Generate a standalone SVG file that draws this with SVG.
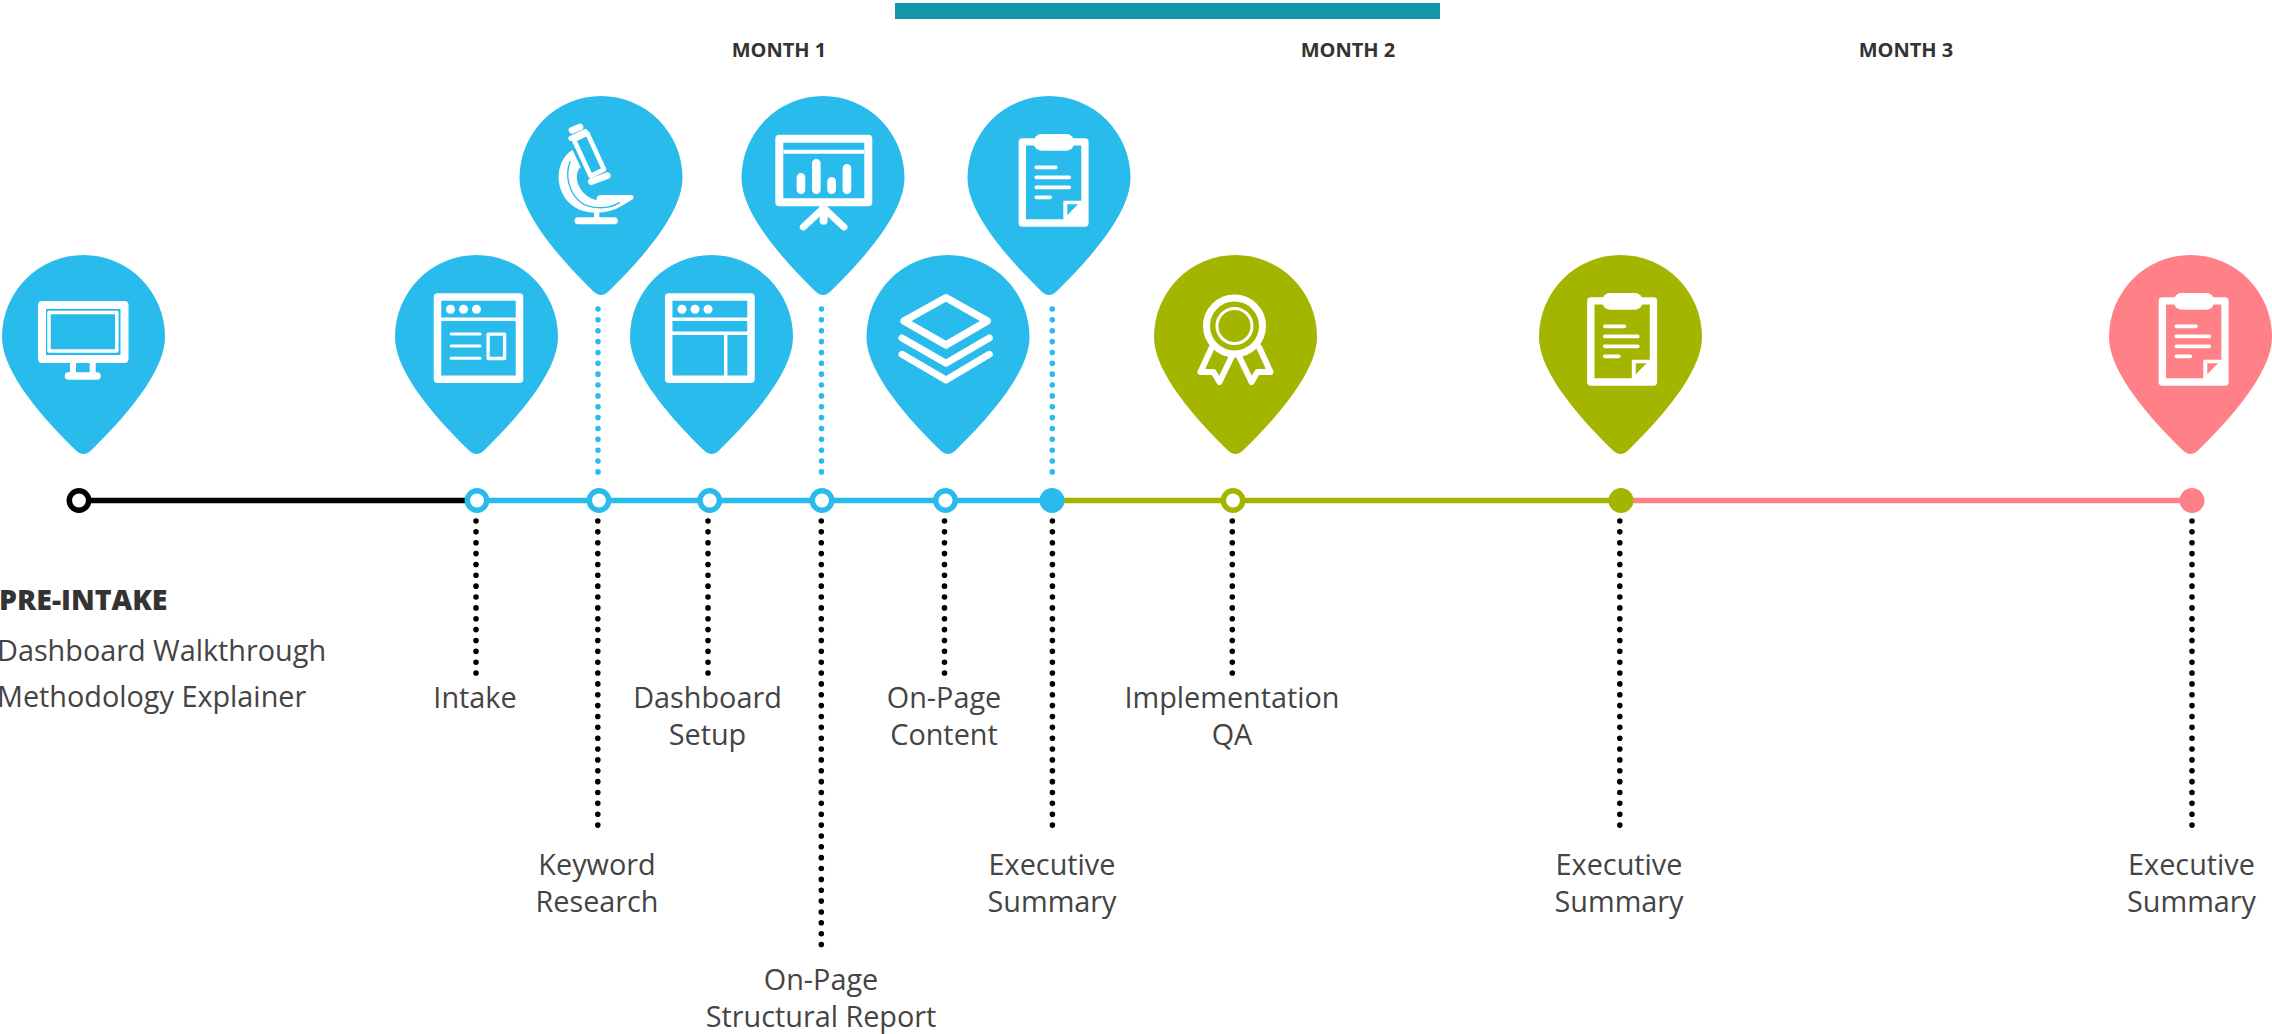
<svg xmlns="http://www.w3.org/2000/svg" width="2272" height="1034" viewBox="0 0 2272 1034">
<style>
text{font-family:"Open Sans","Noto Sans","Liberation Sans",sans-serif;font-size:28.8px;fill:#444;text-anchor:middle}
.h{font-weight:800;fill:#333;font-size:28.5px}
.m{font-weight:700;font-size:20px;fill:#333}
.l{text-anchor:start}
.blue{fill:#2abbed}.green{fill:#a4b500}.pink{fill:#ff8087}
.tl{fill:none;stroke-width:5.5}
.dot{fill:none;stroke-width:5.6;stroke-linecap:round;stroke-dasharray:0 10.86}
.ring{fill:#fff;stroke-width:5.5}
.ic{fill:none;stroke:#fff;stroke-linecap:round;stroke-linejoin:round}
</style>
<defs>
<path id="pin" d="M-8,195C-52,152-81.500,112-81.500,82A81.500,82 0 0 1 81.500,82C81.500,112 52,152 8,195Q0,203-8,195Z"/>
<g id="i-monitor" class="ic">
<rect x="-41.500" y="50" width="82.500" height="54" stroke-width="8"/>
<rect x="-34.500" y="57.500" width="67.800" height="38.500" stroke-width="3.500"/>
<path d="M-10.500,108V118M9.200,108V118" stroke-width="6" stroke-linecap="butt"/>
<path d="M-15,121H13.500" stroke-width="7.500"/>
</g>
<g id="i-browser" class="ic">
<rect x="-39" y="42" width="82" height="82.300" stroke-width="7.500"/>
<path d="M-39,64.300H43" stroke-width="3.500"/>
<circle cx="-26" cy="54.300" r="4.500" fill="#fff" stroke="none"/>
<circle cx="-13" cy="54.300" r="4.500" fill="#fff" stroke="none"/>
<circle cx="0" cy="54.300" r="4.500" fill="#fff" stroke="none"/>
<path d="M-25.400,79H3.600M-25.400,91H3.600M-25.400,103.300H3.600" stroke-width="3"/>
<rect x="11.600" y="79.200" width="16.500" height="24.300" stroke-width="3.300"/>
</g>
<g id="i-dash" class="ic">
<rect x="-42.800" y="42" width="82.300" height="82.300" stroke-width="7.500"/>
<path d="M-42.800,64.300H39.500M-42.800,78.300H39.500M14.200,78.300V124" stroke-width="3.500" stroke-linecap="butt"/>
<circle cx="-29.500" cy="54.300" r="4.500" fill="#fff" stroke="none"/>
<circle cx="-16.500" cy="54.300" r="4.500" fill="#fff" stroke="none"/>
<circle cx="-3.500" cy="54.300" r="4.500" fill="#fff" stroke="none"/>
</g>
<g id="i-scope" class="ic" transform="translate(-101,-16) scale(.3333)">
<path d="M222,180L262,160L312,268L272,288Z" stroke-width="14"/>
<path d="M216,151L240,141" stroke-width="20"/>
<path d="M213,175L256,155" stroke-width="16"/>
<path d="M274,305L322,287" stroke-width="20"/>
<path d="M218,210C165,240 160,330 215,375C250,405 320,405 365,378C380,368 392,362 400,356Q403,346 392,345L300,345Q288,348 290,360C265,355 240,335 232,305C228,285 232,270 242,262L228,232Z" fill="#fff" stroke="none"/>
<path d="M210,245C195,285 205,335 240,365C265,385 320,392 358,368" stroke="#2abbed" stroke-width="4"/>
<path d="M290,395V415" stroke-width="16"/>
<path d="M234,422H343" stroke-width="21"/>
</g>
<g id="i-board" class="ic" transform="translate(-323,-16) scale(.3333)">
<rect x="838" y="176" width="267" height="191" stroke-width="24"/>
<path d="M850,215H1093" stroke-width="12" stroke-linecap="butt"/>
<path d="M903,292V329M949,250V329M995,304V329M1041,265V329" stroke-width="26"/>
<path d="M970,385L910,441M972,385L1032,441" stroke-width="21"/>
<path d="M971,380V422" stroke-width="24"/>
</g>
<g id="i-clip" class="ic" transform="translate(-329,-16) scale(.3333)">
<rect x="907" y="185.500" width="188" height="243.500" stroke-width="22"/>
<rect x="942" y="162" width="120" height="50" rx="22" fill="#fff" stroke="none"/>
<path d="M949,262H1008M949,292H1048M949,322H1048M949,352H991" stroke-width="11"/>
<path fill-rule="evenodd" d="M1030,362H1090V424H1030ZM1042,373H1074L1042,406Z" fill="#fff" stroke="none"/>
</g>
<g id="i-layers" class="ic" transform="translate(-108,-5) scale(.3333)">
<path d="M192,213L318,143L442,213L318,285Z" stroke-width="22"/>
<path d="M186,264L318,340L448,264" stroke-width="21"/>
<path d="M186,313L318,390L448,313" stroke-width="21"/>
</g>
<g id="i-award" class="ic">
<circle cx="-1" cy="71" r="28" stroke-width="7"/>
<circle cx="-1" cy="71" r="17.500" stroke-width="3"/>
<path d="M-23.500,92L-35,117L-22,117L-16,127L-3,100" stroke-width="6"/>
<path d="M23.500,92L35,117L22,117L16,127L3,100" stroke-width="6"/>
</g>
</defs>

<rect id="top-bar" x="895" y="3" width="545" height="16" fill="#1198ab"/>
<g id="months">
<text class="m" x="779" y="57">MONTH 1</text>
<text class="m" x="1348" y="57">MONTH 2</text>
<text class="m" x="1906" y="57">MONTH 3</text>
</g>

<g id="connectors">
<path class="tl" stroke="#000" d="M79,500.500H477"/>
<path class="tl" stroke="#2abbed" d="M477,500.500H1052"/>
<path class="tl" stroke="#a4b500" d="M1052,500.500H1621"/>
<path class="tl" stroke="#ff8087" d="M1621,500.500H2192"/>
<g stroke="#2abbed">
<path class="dot" d="M598,309V473"/>
<path class="dot" d="M821.500,309V473"/>
<path class="dot" d="M1052.300,309V473"/>
</g>
<g stroke="#000">
<path class="dot" d="M476,521V674"/>
<path class="dot" d="M597.800,521V826"/>
<path class="dot" d="M708,521V674"/>
<path class="dot" d="M821.300,521V945"/>
<path class="dot" d="M944.500,521V674"/>
<path class="dot" d="M1052.400,521V826"/>
<path class="dot" d="M1232.300,521V674"/>
<path class="dot" d="M1619.800,521V826"/>
<path class="dot" d="M2192,521V826"/>
</g>
</g>

<g id="node-pre-intake">
<use href="#pin" class="blue" x="83.500" y="255"/>
<use href="#i-monitor" x="83.500" y="255"/>
<circle class="ring" cx="79" cy="500.500" r="9.700" stroke="#000"/>
<text class="h l" x="-1" y="610">PRE-INTAKE</text>
<text class="l" x="-3" y="661">Dashboard Walkthrough</text>
<text class="l" x="-3" y="707">Methodology Explainer</text>
</g>
<g id="node-intake">
<use href="#pin" class="blue" x="476.500" y="255"/>
<use href="#i-browser" x="476.500" y="255"/>
<circle class="ring" cx="477" cy="500.500" r="9.700" stroke="#2abbed"/>
<text x="475" y="708">Intake</text>
</g>
<g id="node-keyword">
<use href="#pin" class="blue" x="601" y="96"/>
<use href="#i-scope" x="601" y="96"/>
<circle class="ring" cx="599" cy="500.500" r="9.700" stroke="#2abbed"/>
<text x="597" y="875">Keyword</text>
<text x="597" y="912">Research</text>
</g>
<g id="node-dashboard">
<use href="#pin" class="blue" x="711.500" y="255"/>
<use href="#i-dash" x="711.500" y="255"/>
<circle class="ring" cx="709.700" cy="500.500" r="9.700" stroke="#2abbed"/>
<text x="707.500" y="708">Dashboard</text>
<text x="707.500" y="745">Setup</text>
</g>
<g id="node-structural">
<use href="#pin" class="blue" x="823" y="96"/>
<use href="#i-board" x="823" y="96"/>
<circle class="ring" cx="822" cy="500.500" r="9.700" stroke="#2abbed"/>
<text x="821" y="990">On-Page</text>
<text x="821" y="1027">Structural Report</text>
</g>
<g id="node-content">
<use href="#pin" class="blue" x="948" y="255"/>
<use href="#i-layers" x="948" y="255"/>
<circle class="ring" cx="945.500" cy="500.500" r="9.700" stroke="#2abbed"/>
<text x="944" y="708">On-Page</text>
<text x="944" y="745">Content</text>
</g>
<g id="node-exec-1">
<use href="#pin" class="blue" x="1049" y="96"/>
<use href="#i-clip" x="1049" y="96"/>
<circle class="blue" cx="1052" cy="500.500" r="12.500"/>
<text x="1052" y="875">Executive</text>
<text x="1052" y="912">Summary</text>
</g>
<g id="node-qa">
<use href="#pin" class="green" x="1235.500" y="255"/>
<use href="#i-award" x="1235.500" y="255"/>
<circle class="ring" cx="1233" cy="500.500" r="9.700" stroke="#a4b500"/>
<text x="1232" y="708">Implementation</text>
<text x="1232" y="745">QA</text>
</g>
<g id="node-exec-2">
<use href="#pin" class="green" x="1620.500" y="255"/>
<use href="#i-clip" x="1617.500" y="255"/>
<circle class="green" cx="1621" cy="500.500" r="12.500"/>
<text x="1619" y="875">Executive</text>
<text x="1619" y="912">Summary</text>
</g>
<g id="node-exec-3">
<use href="#pin" class="pink" x="2190.500" y="255"/>
<use href="#i-clip" x="2189" y="255"/>
<circle class="pink" cx="2192" cy="500.500" r="12.500"/>
<text x="2191.500" y="875">Executive</text>
<text x="2191.500" y="912">Summary</text>
</g>
</svg>
